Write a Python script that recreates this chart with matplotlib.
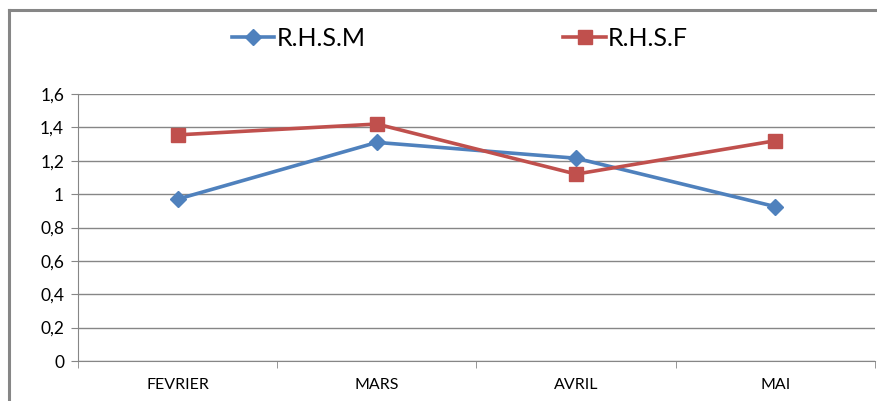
import matplotlib.pyplot as plt
from matplotlib.ticker import FuncFormatter

# donnees
mois = ['FEVRIER', 'MARS', 'AVRIL', 'MAI']
rhsm = [0.97, 1.31, 1.215, 0.925]
rhsf = [1.355, 1.42, 1.12, 1.32]

bleu = '#4F81BD'
rouge = '#C0504D'
gris = '#868686'

plt.rcParams['font.family'] = ['Lato', 'DejaVu Sans']

fig = plt.figure(figsize=(8.78, 4.01), dpi=100)
ax = fig.add_axes([78 / 878, 1 - 361 / 401, (875 - 78) / 878, (361 - 94) / 401])

x = range(len(mois))
ax.plot(x, rhsm, color=bleu, lw=2.6, marker='D', ms=8, label='R.H.S.M')
ax.plot(x, rhsf, color=rouge, lw=2.6, marker='s', ms=10, label='R.H.S.F')

ax.set_xlim(-0.5, len(mois) - 0.5)
ax.set_ylim(0, 1.6)
ax.set_yticks([0, 0.2, 0.4, 0.6, 0.8, 1.0, 1.2, 1.4, 1.6])
ax.yaxis.set_major_formatter(FuncFormatter(lambda v, p: ('%g' % round(v, 1)).replace('.', ',')))
ax.set_xticks(list(x))
ax.set_xticklabels(mois)
ax.set_xticks([i - 0.5 for i in range(len(mois) + 1)], minor=True)
ax.tick_params(axis='x', which='major', length=0, pad=12, labelsize=11.5)
ax.tick_params(axis='x', which='minor', length=5, color=gris, direction='out')
ax.tick_params(axis='y', length=5, color=gris, labelsize=12.5, pad=5)

ax.grid(axis='y', color=gris, lw=1)
ax.set_axisbelow(True)
for s in ['top', 'right']:
    ax.spines[s].set_visible(False)
for s in ['left', 'bottom']:
    ax.spines[s].set_color(gris)

fig.legend(loc='center', bbox_to_anchor=(460 / 878, 1 - 38 / 401), ncol=2, frameon=False,
           fontsize=18, columnspacing=7.9, handlelength=1.7, handletextpad=0.1)

# cadre exterieur
fig.add_artist(plt.Line2D([9 / 878, 9 / 878], [0, 1 - 9.5 / 401], color=gris, lw=2.2))
fig.add_artist(plt.Line2D([9 / 878, 1.01], [1 - 9.5 / 401, 1 - 9.5 / 401], color=gris, lw=2.2))

fig.savefig('out.png')
